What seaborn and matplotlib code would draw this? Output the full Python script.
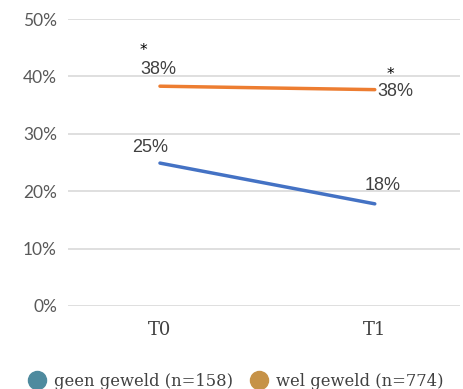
"""
Line chart: geweld T0 vs T1
"""

import matplotlib
matplotlib.use("Agg")
import matplotlib.pyplot as plt
from matplotlib.lines import Line2D
from matplotlib.ticker import PercentFormatter
import seaborn as sns
import pandas as pd

# Data
momenten = ["T0", "T1"]
geen_geweld = [0.249, 0.178]
wel_geweld = [0.383, 0.377]
legend_labels = ["geen geweld (n=158)", "wel geweld (n=774)"]
line_colors = ["#4472C4", "#ED7D31"]
legend_colors = ["#4E8A9E", "#C69247"]


def main():
    sns.set_theme(style="white")
    plt.rcParams["font.family"] = ["Lato", "DejaVu Sans"]

    df = pd.DataFrame({
        "x": [0, 1, 0, 1],
        "waarde": geen_geweld + wel_geweld,
        "groep": [legend_labels[0]] * 2 + [legend_labels[1]] * 2,
    })

    fig = plt.figure(figsize=(4.64, 3.89), dpi=100)
    ax = fig.add_axes([0.1466, 0.2134, 0.844, 0.7376])

    sns.lineplot(
        data=df, x="x", y="waarde", hue="groep",
        palette=line_colors, linewidth=2.5, legend=False, ax=ax,
    )

    ax.set_xlim(-0.428, 1.395)
    ax.set_ylim(0, 0.5)
    ax.set_yticks([0, 0.1, 0.2, 0.3, 0.4, 0.5])
    ax.yaxis.set_major_formatter(PercentFormatter(1.0, decimals=0))
    ax.grid(axis="y", color="#D9D9D9", linewidth=1.2)
    ax.set_axisbelow(True)
    for s in ax.spines.values():
        s.set_visible(False)
    ax.tick_params(axis="y", length=0, pad=8, labelsize=12.5, labelcolor="#595959")
    ax.set_xticks([0, 1])
    ax.set_xticklabels(momenten, family=["DejaVu Serif"], fontsize=13, color="#404040")
    ax.tick_params(axis="x", length=0, pad=11)
    ax.set_xlabel("")
    ax.set_ylabel("")

    # data labels
    lab_kw = dict(textcoords="offset points", fontsize=13, color="#404040",
                  family=["Liberation Sans", "DejaVu Sans"])
    star_kw = dict(textcoords="offset points", fontsize=11, color="black",
                   ha="center", va="top", family=["DejaVu Sans"])
    ax.annotate(f"{wel_geweld[0]:.0%}", (0, wel_geweld[0]), xytext=(-1.5, 12),
                ha="center", va="center", **lab_kw)
    ax.annotate("*", (0, wel_geweld[0]), xytext=(-12, 31), **star_kw)
    ax.annotate(f"{wel_geweld[1]:.0%}", (1, wel_geweld[1]), xytext=(1.5, -1),
                ha="left", va="center", **lab_kw)
    ax.annotate("*", (1, wel_geweld[1]), xytext=(11, 16), **star_kw)
    ax.annotate(f"{geen_geweld[0]:.0%}", (0, geen_geweld[0]), xytext=(-7, 11),
                ha="center", va="center", **lab_kw)
    ax.annotate(f"{geen_geweld[1]:.0%}", (1, geen_geweld[1]), xytext=(6, 13),
                ha="center", va="center", **lab_kw)

    handles = [
        Line2D([], [], marker="o", linestyle="", markersize=13,
               markerfacecolor=c, markeredgecolor=c)
        for c in legend_colors
    ]
    fig.legend(handles, legend_labels, loc="lower center", ncol=2,
               bbox_to_anchor=(0.5, -0.04), frameon=False,
               prop={"family": "DejaVu Serif", "size": 11.8},
               handletextpad=0.05, columnspacing=0.6, labelcolor="#404040")

    fig.savefig("out.png", dpi=100)
    plt.close(fig)


if __name__ == "__main__":
    main()
